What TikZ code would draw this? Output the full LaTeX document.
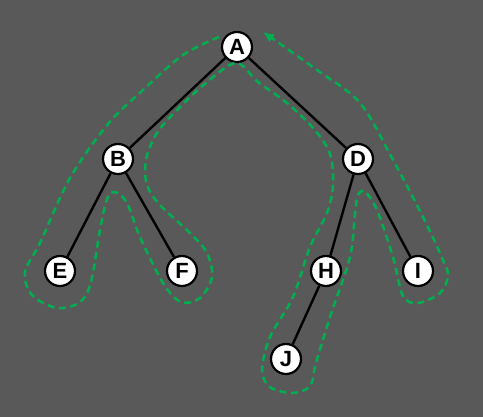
\documentclass[tikz,border=0pt]{standalone}
\usepackage{fontspec}
\setmainfont{Liberation Sans}
\usetikzlibrary{arrows.meta, calc, positioning}
\definecolor{bgGray}{HTML}{595959}
\definecolor{tourGreen}{HTML}{00B050}
\tikzset{
    treeNode/.style={circle, draw=black, line width=2.2pt, fill=white, inner sep=0pt, minimum size=30pt, font=\fontsize{22}{22}\selectfont\bfseries},
    treeEdge/.style={draw=black, line width=2.4pt},
    tourPath/.style={draw=tourGreen, line width=2.5pt, dash pattern=on 7pt off 4.5pt, -{Latex[length=11pt, width=10pt]}},
}
\newcommand{\drawEdge}[2]{
    \draw[treeEdge] (#1) -- (#2);
}
\begin{document}
\begin{tikzpicture}[x=1pt, y=-1pt]
    \fill[bgGray] (0,0) rectangle (483,417);
    \useasboundingbox (0,0) rectangle (483,417);

    % tree nodes
    \node[treeNode] (A) at (237, 47) {A};
    \node[treeNode] (B) at (118, 159) {B};
    \node[treeNode] (D) at (358, 159) {D};
    \node[treeNode] (E) at (60, 271) {E};
    \node[treeNode] (F) at (182, 271) {F};
    \node[treeNode] (H) at (326, 271) {H};
    \node[treeNode] (I) at (418, 271) {I};
    \node[treeNode] (J) at (286, 359) {J};

    \drawEdge{A}{B}
    \drawEdge{A}{D}
    \drawEdge{B}{E}
    \drawEdge{B}{F}
    \drawEdge{D}{H}
    \drawEdge{D}{I}
    \drawEdge{H}{J}

    % euler tour round the tree
    \draw[tourPath] plot[smooth, tension=0.55] coordinates {
        (219,37) (183,55) (143,90) (108,124) (70,178) (40,243) (25,272) (32,295)
        (57,308) (80,302) (91,282) (100,230) (107,199) (115,192) (127,203) (140,237)
        (163,283) (181,302) (200,298) (212,277) (207,253) (190,233) (160,205) (147,185)
        (146,160) (157,133) (180,107) (206,83) (236,63) (258,82) (287,103) (314,129) (330,154)
        (333,185) (327,213) (310,247) (293,297) (270,337) (262,370) (270,387) (292,393)
        (310,386) (316,363) (330,317) (350,257) (355,213) (358,195) (365,192) (377,210)
        (393,257) (403,296) (418,303) (440,293) (448,276) (443,260) (423,217) (392,158)
        (360,103) (317,70) (263,32)
    };
\end{tikzpicture}
\end{document}
